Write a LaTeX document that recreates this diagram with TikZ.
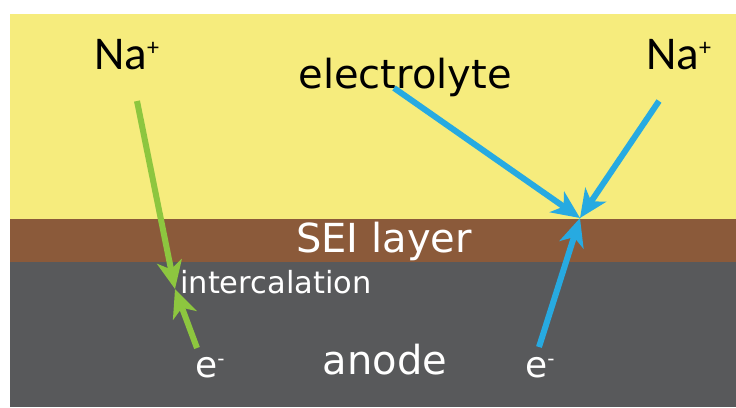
\documentclass[tikz,border=0pt]{standalone}
\usepackage{fontspec}
\usetikzlibrary{arrows.meta}
\newfontfamily\dvfont{DejaVu Sans}
\newfontfamily\cbfont{Carlito}
\definecolor{elyellow}{RGB}{246,236,125}
\definecolor{seibrown}{RGB}{139,90,58}
\definecolor{anodegray}{RGB}{88,89,91}
\definecolor{nagreen}{RGB}{141,198,63}
\definecolor{eblue}{RGB}{39,170,225}
\begin{document}
\begin{tikzpicture}[x=1pt,y=-1pt,
  lbl/.style={inner sep=0pt, anchor=base},
  big/.style={font=\dvfont\fontsize{40}{40}\selectfont},
  na/.style={lbl, anchor=base west, text=black, font=\cbfont\fontsize{47}{47}\selectfont},
  elec/.style={lbl, anchor=base west, text=white, font=\dvfont\fontsize{36}{36}\selectfont},
  flow/.style={line width=6pt, -{Stealth[length=28pt,width=25pt,inset=8pt]}},
]
\useasboundingbox (0,0) rectangle (736,407);
\fill[white] (0,0) rectangle (736,407);
\fill[elyellow] (10,14) rectangle (736,219);
\fill[seibrown] (10,219) rectangle (736,262);
\fill[anodegray] (10,262) rectangle (736,407);

\node[na] (naL) at (94,69) {Na\raisebox{14pt}{\fontsize{24}{24}\selectfont +}};
\node[na] (naR) at (646,69) {Na\raisebox{14pt}{\fontsize{24}{24}\selectfont +}};
\node[lbl, big, text=black] (electrolyte) at (405,88) {electrolyte};
\node[lbl, big, text=white] (sei) at (384,252) {SEI layer};
\node[lbl, big, text=white] (anode) at (385,374) {anode};
\node[lbl, anchor=base west, text=white, font=\dvfont\fontsize{30.5}{30.5}\selectfont] (intercal) at (180,293) {intercalation};
\node[elec] (eL) at (195,377) {e\raisebox{12pt}{\fontsize{20}{20}\selectfont -}};
\node[elec] (eR) at (525,377) {e\raisebox{12pt}{\fontsize{20}{20}\selectfont -}};

\coordinate (g1) at (137,101);
\coordinate (gtip) at (175,289);
\coordinate (g2) at (197,348);
\coordinate (b1) at (394,88);
\coordinate (b2) at (659,101);
\coordinate (b3) at (539,347);
\coordinate (btip) at (580,218);

\draw[flow, nagreen] (g1) -- (gtip);
\draw[flow, nagreen] (g2) -- (gtip);
\draw[flow, eblue] (b1) -- (btip);
\draw[flow, eblue] (b2) -- (btip);
\draw[flow, eblue] (b3) -- (btip);
\end{tikzpicture}
\end{document}
